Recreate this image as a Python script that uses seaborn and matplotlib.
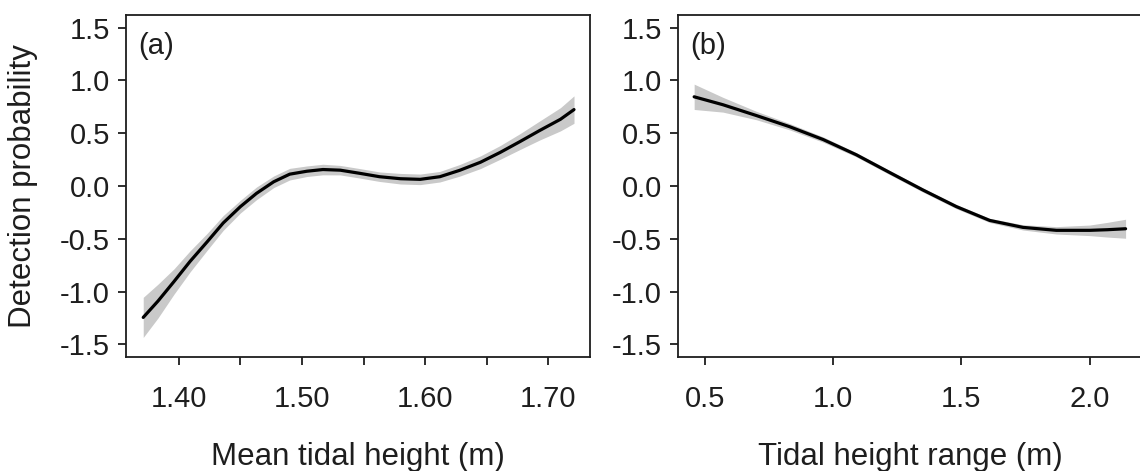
import numpy as np
import pandas as pd
import matplotlib
matplotlib.use("Agg")
import matplotlib.pyplot as plt
import seaborn as sns

# ---- data ----
# Panel (a): mean tidal height
mth_x = [1.371, 1.383, 1.396, 1.409, 1.423, 1.436, 1.450, 1.463, 1.477, 1.490,
         1.504, 1.517, 1.531, 1.547, 1.563, 1.580, 1.596, 1.612, 1.628, 1.645,
         1.661, 1.677, 1.693, 1.710, 1.721]
mth_y = [-1.245, -1.090, -0.905, -0.715, -0.528, -0.350, -0.195, -0.070, 0.040, 0.112,
         0.140, 0.156, 0.150, 0.120, 0.088, 0.069, 0.063, 0.088, 0.148, 0.225,
         0.318, 0.420, 0.525, 0.632, 0.724]
mth_se = [0.19, 0.16, 0.12, 0.10, 0.08, 0.07, 0.06, 0.06, 0.055, 0.055,
          0.05, 0.05, 0.045, 0.045, 0.045, 0.05, 0.05, 0.05, 0.055, 0.06,
          0.065, 0.075, 0.09, 0.11, 0.13]

# Panel (b): tidal height range
thr_x = [0.458, 0.570, 0.700, 0.830, 0.961, 1.090, 1.220, 1.350, 1.480, 1.610,
         1.740, 1.870, 2.000, 2.070, 2.140]
thr_y = [0.845, 0.770, 0.668, 0.562, 0.440, 0.296, 0.128, -0.038, -0.195, -0.326,
         -0.392, -0.420, -0.420, -0.414, -0.405]
thr_se = [0.12, 0.07, 0.04, 0.03, 0.025, 0.02, 0.02, 0.02, 0.02, 0.02,
          0.025, 0.035, 0.05, 0.07, 0.09]

yticks = [-1.5, -1.0, -0.5, 0.0, 0.5, 1.0, 1.5]
yticklabels = ["-1.5", "-1.0", "-0.5", "0.0", "0.5", "1.0", "1.5"]
xticks_a = [1.40, 1.45, 1.50, 1.55, 1.60, 1.65, 1.70]
xticklabels_a = ["1.40", "", "1.50", "", "1.60", "", "1.70"]
xticks_b = [0.5, 1.0, 1.5, 2.0]
xticklabels_b = ["0.5", "1.0", "1.5", "2.0"]

xlabel_a = "Mean tidal height (m)"
xlabel_b = "Tidal height range (m)"
ylabel = "Detection probability"
panel_labels = ["(a)", "(b)"]

# ---- style ----
sns.set_style("ticks")
plt.rcParams["font.family"] = ["Liberation Sans", "DejaVu Sans"]
TXT = "#1e1e1e"
plt.rcParams.update({
    "axes.edgecolor": "#1e1e1e",
    "axes.linewidth": 1.3,
    "xtick.color": "#1e1e1e",
    "ytick.color": "#1e1e1e",
    "text.color": TXT,
    "axes.labelcolor": TXT,
})

fig = plt.figure(figsize=(11.4, 4.71), dpi=100)
W, H = 1140.0, 471.0
ax_a = fig.add_axes([126 / W, (H - 357) / H, 464 / W, 342 / H])
ax_b = fig.add_axes([678 / W, (H - 357) / H, 464 / W, 342 / H])

df_a = pd.DataFrame({"x": mth_x, "y": mth_y, "se": mth_se})
df_b = pd.DataFrame({"x": thr_x, "y": thr_y, "se": thr_se})

band_col = "#c9c9c9"
for ax, df in [(ax_a, df_a), (ax_b, df_b)]:
    ax.fill_between(df["x"], df["y"] - df["se"], df["y"] + df["se"],
                    color=band_col, linewidth=0, zorder=1)
    sns.lineplot(data=df, x="x", y="y", ax=ax, color="black", linewidth=2.3,
                 sort=False, estimator=None, zorder=2)

ax_a.set_xlim(1.357, 1.734)
ax_b.set_xlim(0.395, 2.204)

for ax, xt, xtl, xl, pl in [(ax_a, xticks_a, xticklabels_a, xlabel_a, panel_labels[0]),
                             (ax_b, xticks_b, xticklabels_b, xlabel_b, panel_labels[1])]:
    ax.set_ylim(-1.62, 1.62)
    ax.set_yticks(yticks)
    ax.set_yticklabels(yticklabels)
    ax.set_xticks(xt)
    ax.set_xticklabels(xtl)
    ax.tick_params(axis="both", direction="out", length=5.5, width=1.3,
                   labelsize=21, labelcolor=TXT)
    ax.tick_params(axis="x", pad=15)
    ax.tick_params(axis="y", pad=6)
    for s in ax.spines.values():
        s.set_visible(True)
        s.set_linewidth(1.3)
    ax.set_xlabel(xl, fontsize=22.5, color=TXT)
    ax.xaxis.set_label_coords(0.5, -0.25)
    ax.set_ylabel("")
    ax.text(0.026, 0.95, pl, transform=ax.transAxes, ha="left", va="top",
            fontsize=21, color=TXT)
    ax.grid(False)

ax_a.set_ylabel(ylabel, fontsize=22.5, color=TXT)
ax_a.yaxis.set_label_coords(-0.19, 0.5)

fig.savefig("out.png", dpi=100, facecolor="white")
